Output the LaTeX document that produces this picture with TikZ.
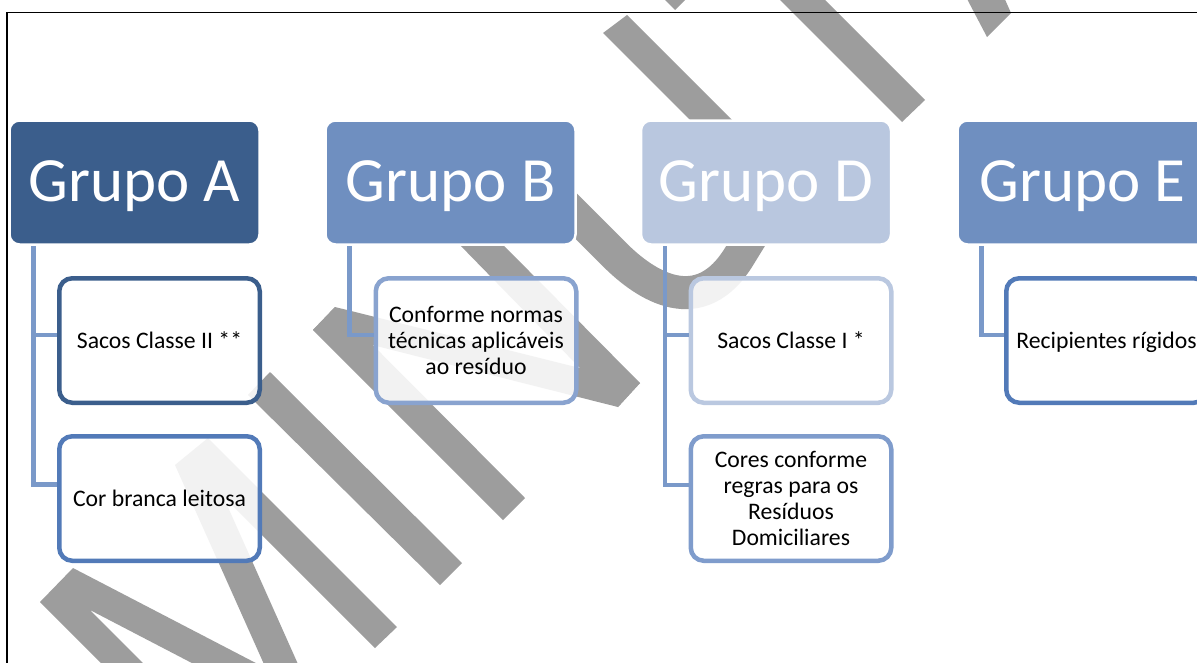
\documentclass[tikz,border=0pt]{standalone}
\usepackage{fontspec}
\setmainfont{Carlito}
\usetikzlibrary{positioning}

\definecolor{azulA}{RGB}{59,94,140}
\definecolor{azulB}{RGB}{111,143,192}
\definecolor{azulD}{RGB}{185,199,223}
\definecolor{bordaM}{RGB}{82,122,184}
\definecolor{bordaB}{RGB}{137,163,207}
\definecolor{bordaD}{RGB}{186,200,224}
\definecolor{bordaDD}{RGB}{127,156,204}
\definecolor{linha}{RGB}{122,153,201}
\definecolor{marca}{RGB}{157,157,157}

\tikzset{
  grupo/.style={rectangle, rounded corners=10pt, draw=white, line width=2.5pt,
    minimum width=250pt, minimum height=124pt, inner sep=0pt, text=white,
    text height=46pt, text depth=9pt, font=\fontsize{63}{70}\selectfont},
  item/.style={rectangle, rounded corners=13pt, line width=4.5pt, fill=white,
    fill opacity=0.87, text opacity=1, minimum width=200.5pt, minimum height=124.5pt,
    inner sep=0pt, align=center, font=\fontsize{23.7}{26}\selectfont},
  ligacao/.style={draw=linha, line width=4.5pt},
  traco/.style={fill=marca, draw=none}
}

\begin{document}
\begin{tikzpicture}[x=1pt,y=-1pt]

\useasboundingbox (0,0) rectangle (1197,662);
\fill[white] (0,0) rectangle (1197,662);
\clip (0,0) rectangle (1197,662);

%-------------------------------------------------
% Marca d'agua
%-------------------------------------------------

% M
\fill[traco] (40,602) -- (73,568) -- (327,700) -- (263,700) -- (90,610)
  -- (180,700) -- (138,700) -- cycle;
\fill[traco] (175,465) -- (208,438) -- (397,627) -- (375,648) -- (223,496)
  -- (314,700) -- (280,700) -- cycle;

% I
\fill[traco] (248,395) -- (270,372) -- (462,563) -- (440,585) -- cycle;

% N
\fill[traco] (313,330) -- (335,307) -- (525,498) -- (503,520) -- cycle;
\fill[traco] (313,330) -- (335,307) -- (640,383) -- (618,407) -- cycle;
\fill[traco] (377,160) -- (419,160) -- (640,383) -- (618,407) -- cycle;

% U
\draw[marca, line width=33pt] (540,180) -- (615,255)
  .. controls (645,285) and (700,322) .. (740,255) -- (780,190);

% T
\fill[traco] (603,33) -- (627,15) -- (760,148) -- (740,170) -- cycle;
\fill[traco] (660,-5) -- (690,-5) -- (675,10) -- cycle;

% A
\fill[traco] (770,-10) -- (815,-10) -- (925,100) -- (902,122) -- cycle;
\fill[traco] (965,-5) -- (1003,-5) -- (1011,13) -- (987,37) -- cycle;

%-------------------------------------------------
% Moldura
%-------------------------------------------------

\draw[line width=1.8pt] (7,670) -- (7,12.5) -- (1200,12.5);

%-------------------------------------------------
% Ligacoes
%-------------------------------------------------

\coordinate (tA) at (33.5,244);
\coordinate (tB) at (349.5,244);
\coordinate (tD) at (665,244);
\coordinate (tE) at (981.5,244);

%-------------------------------------------------
% Grupo A
%-------------------------------------------------

\node[item, draw=azulA] (a1) at (159.5,340.5) {Sacos Classe II **};
\node[item, draw=bordaM] (a2) at (159.5,498.5) {Cor branca leitosa};

\draw[ligacao] (tA) |- ([yshift=5.5pt]a1.west);
\draw[ligacao] (tA) |- ([yshift=14pt]a2.west);

\node[grupo, fill=azulA] (gA) at (134.5,182.5) {Grupo A};

%-------------------------------------------------
% Grupo B
%-------------------------------------------------

\node[item, draw=bordaB] (b1) at (476,340.5) {Conforme normas\\técnicas aplicáveis\\ao resíduo};

\draw[ligacao] (tB) |- ([yshift=5.5pt]b1.west);

\node[grupo, fill=azulB] (gB) at (450.5,182.5) {Grupo B};

%-------------------------------------------------
% Grupo D
%-------------------------------------------------

\node[item, draw=bordaD] (d1) at (791,340.5) {Sacos Classe I *};
\node[item, draw=bordaDD] (d2) at (791,498.5) {Cores conforme\\regras para os\\Resíduos\\Domiciliares};

\draw[ligacao] (tD) |- ([yshift=5.5pt]d1.west);
\draw[ligacao] (tD) |- ([yshift=13.5pt]d2.west);

\node[grupo, fill=azulD] (gD) at (766,182.5) {Grupo D};

%-------------------------------------------------
% Grupo E
%-------------------------------------------------

\node[item, draw=bordaM, text depth=0pt] (e1) at (1106.5,340.5) {Recipientes rígidos};

\draw[ligacao] (tE) |- ([yshift=5.5pt]e1.west);

\node[grupo, fill=azulB] (gE) at (1082.5,182.5) {Grupo E};

\end{tikzpicture}
\end{document}
